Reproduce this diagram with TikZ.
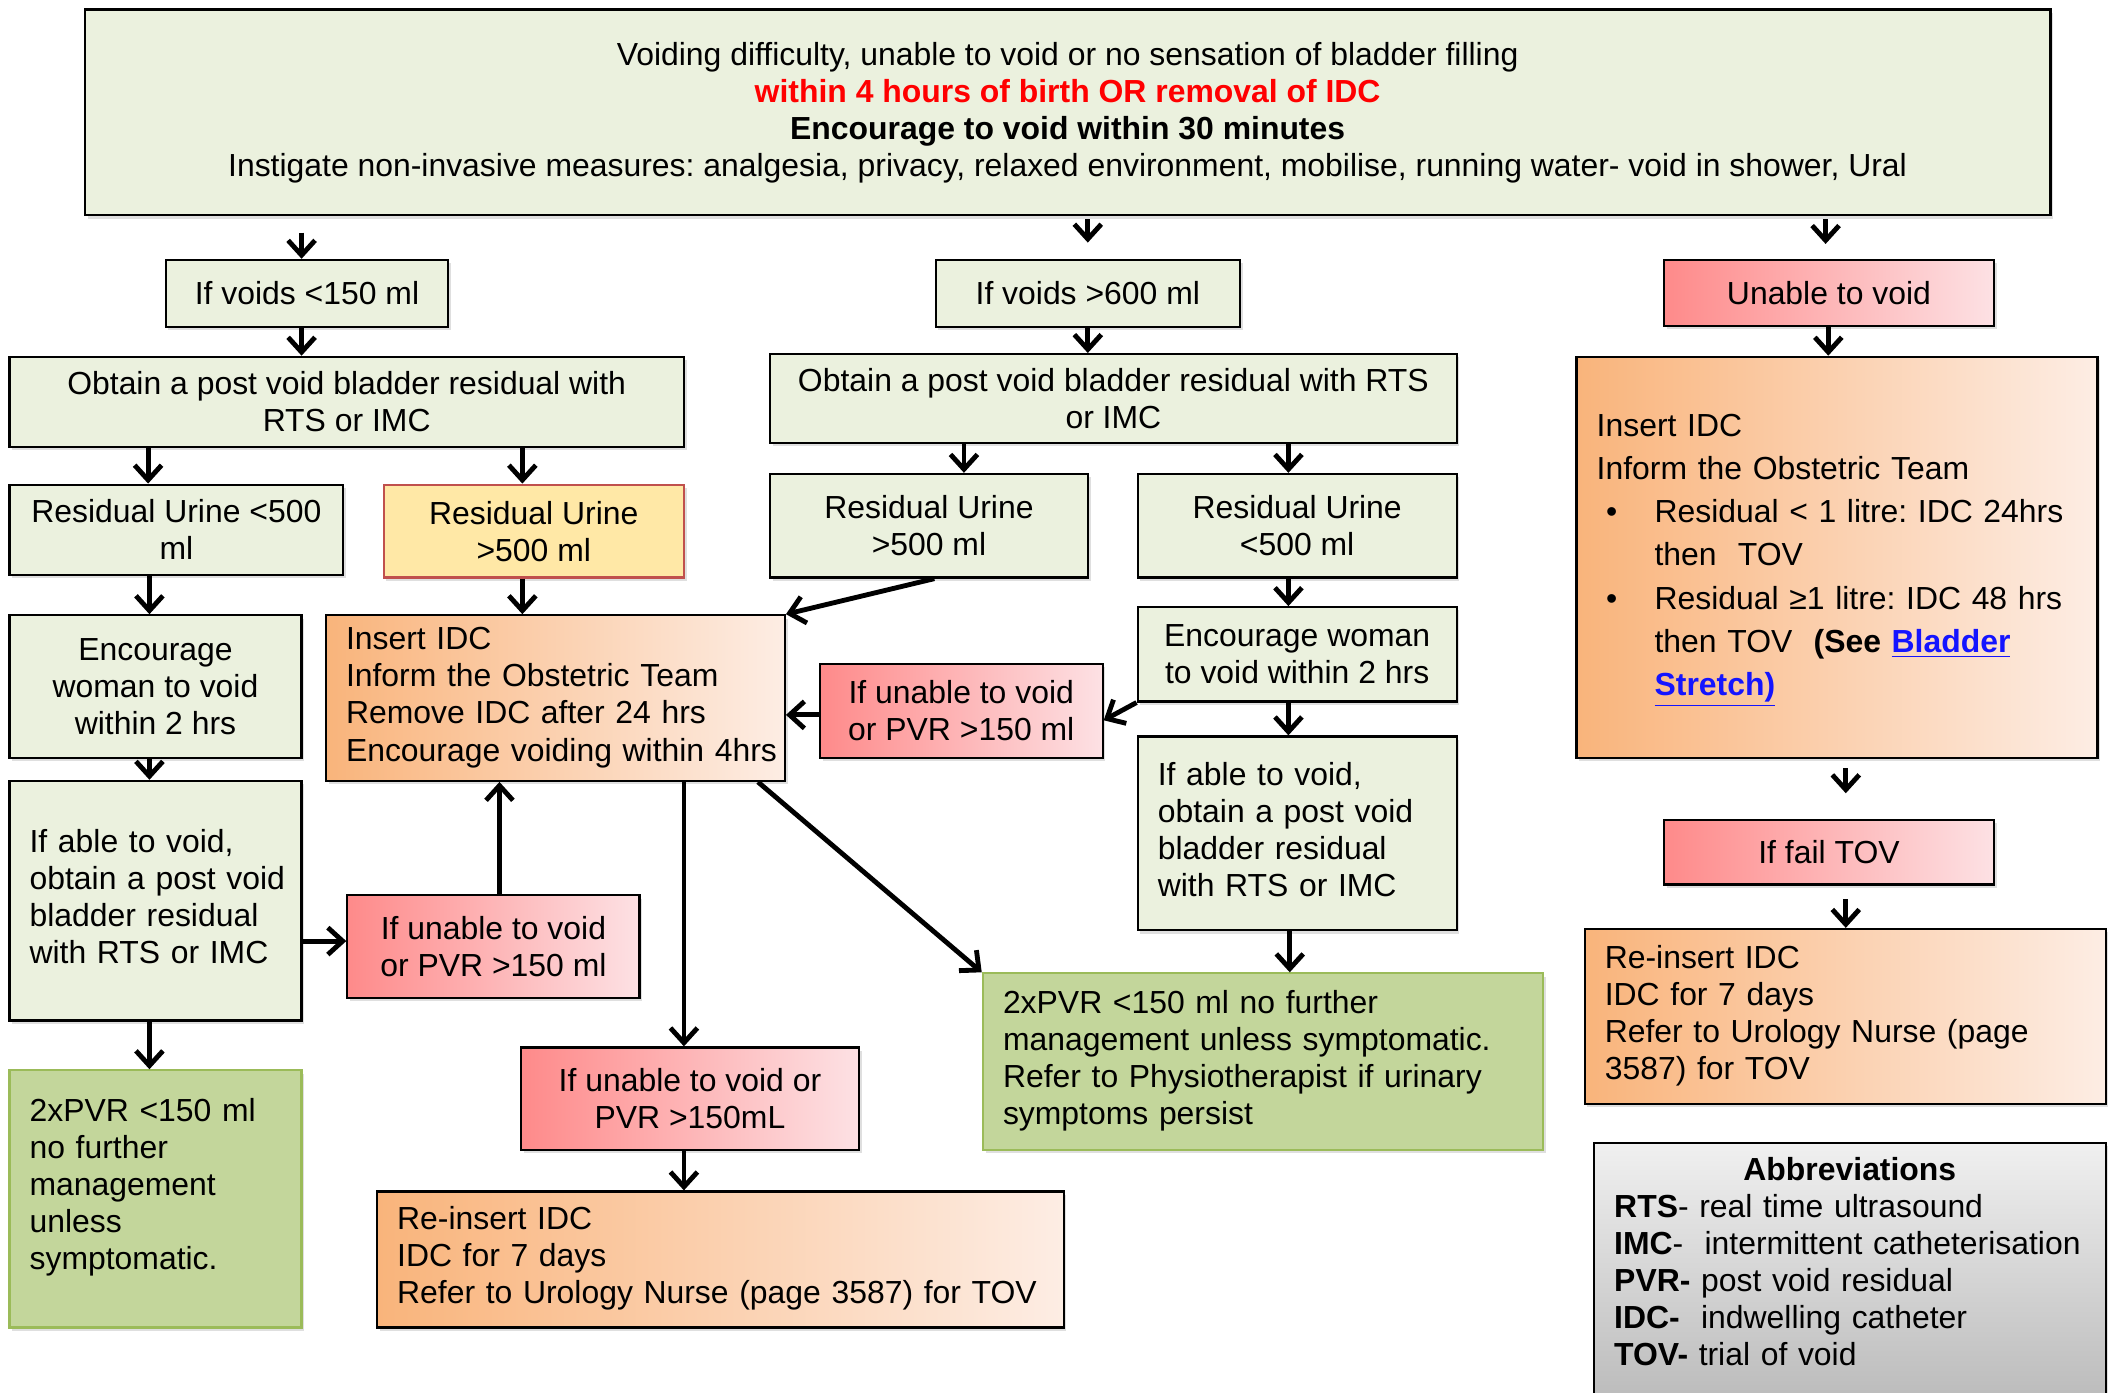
\documentclass[tikz,border=0pt]{standalone}
\usepackage{fontspec}
\setmainfont{Liberation Sans}
\usetikzlibrary{arrows.meta,shadows,calc}
\frenchspacing
\definecolor{lgreen}{HTML}{EBF1DE}
\definecolor{orL}{HTML}{F9B47B}
\definecolor{orR}{HTML}{FDEDE4}
\definecolor{redL}{HTML}{FE8A8A}
\definecolor{redR}{HTML}{FDE1E4}
\definecolor{yel}{HTML}{FFE8A6}
\definecolor{yelB}{HTML}{C0504D}
\definecolor{grn}{HTML}{C3D69B}
\definecolor{grnB}{HTML}{9BBB59}
\definecolor{grayT}{HTML}{F0F0F0}
\definecolor{grayB}{HTML}{BABABA}
\definecolor{linkblue}{HTML}{1414FF}
\definecolor{txtred}{HTML}{FF0000}
\tikzset{
  base/.style={draw=black, line width=0.8pt, inner sep=0pt,
    font=\fontsize{11.85}{13.75}\selectfont,
    drop shadow={shadow xshift=1pt,shadow yshift=-1.2pt,opacity=0.25}},
  gbox/.style={base, fill=lgreen, align=center},
  obox/.style={base, left color=orL, right color=orR},
  rbox/.style={base, left color=redL, right color=redR, align=center},
  ybox/.style={base, fill=yel, draw=yelB, align=center},
  grbox/.style={base, fill=grn, draw=grnB},
  abox/.style={base, top color=grayT, bottom color=grayB},
  arr/.style={line width=1.8pt, -{Straight Barb[length=5.5pt,width=10pt]}},
}
\newcommand\bx[7]{\node[#6, minimum width={(#4-(#2))*0.5pt}, minimum height={(#5-(#3))*0.5pt}] (#1) at ({(#2+#4)/2},{(#3+#5)/2}) {#7};}
\newcommand\lbx[7]{\node[#6, align=left, inner xsep=7.5pt, text width={(#4-(#2))*0.5pt-15pt}, minimum width={(#4-(#2))*0.5pt}, minimum height={(#5-(#3))*0.5pt}] (#1) at ({(#2+#4)/2},{(#3+#5)/2}) {\begin{tabular}{@{}l@{}}#7\end{tabular}};}
\begin{document}
\begin{tikzpicture}[x=0.5pt,y=-0.5pt]
\useasboundingbox (0,0) rectangle (1568,1034);
\clip (0,0) rectangle (1568,1034);
\fill[white] (0,0) rectangle (1568,1034);

% boxes
\bx{top}{63}{7}{1523}{160}{gbox}{Voiding difficulty, unable to void or no sensation of bladder filling\\
 \textcolor{txtred}{\textbf{within 4 hours of birth OR removal of IDC}}\\
 \textbf{Encourage to void within 30 minutes}\\
 Instigate non-invasive measures: analgesia, privacy, relaxed environment, mobilise, running water- void in shower, Ural}

\bx{v150}{123}{193}{333}{243}{gbox}{If voids <150 ml}
\bx{v600}{695}{193}{921}{243}{gbox}{If voids >600 ml}
\bx{unable}{1236}{193}{1481}{242}{rbox}{Unable to void}

\bx{obtainL}{7}{265}{508}{332}{gbox}{Obtain a post void bladder residual with\\RTS or IMC}
\bx{obtainM}{572}{263}{1082}{329}{gbox}{Obtain a post void bladder residual with RTS\\or IMC}

\lbx{insertR}{1171}{265}{1558}{563}{obox, font=\fontsize{11.85}{16}\selectfont}{Insert IDC\\
Inform the Obstetric Team\\
\hspace*{3.5pt}\makebox[18pt][l]{\textbullet}Residual < 1 litre: IDC 24hrs\\
\hspace*{21.5pt}then\ \ TOV\\
\hspace*{3.5pt}\makebox[18pt][l]{\textbullet}Residual ≥1 litre: IDC 48 hrs\\
\hspace*{21.5pt}then TOV\ \ \textbf{(See \textcolor{linkblue}{\underline{Bladder}}}\\
\hspace*{21.5pt}\textbf{\textcolor{linkblue}{\underline{Stretch)}}}}

\bx{resL1}{7}{360}{255}{427}{gbox}{Residual Urine <500\\ml}
\bx{resL2}{285}{360}{508}{429}{ybox}{Residual Urine\\>500 ml}
\bx{resM1}{572}{352}{808}{429}{gbox}{Residual Urine\\>500 ml}
\bx{resM2}{845}{352}{1082}{429}{gbox}{Residual Urine\\<500 ml}

\bx{encL}{7}{457}{224}{563}{gbox}{Encourage\\woman to void\\within 2 hrs}
\lbx{insertM}{242}{457}{583}{580}{obox}{Insert IDC\\Inform the Obstetric Team\\Remove IDC after 24 hrs\\Encourage voiding within 4hrs}
\bx{unableM}{609}{493}{819}{563}{rbox}{If unable to void\\or PVR >150 ml}
\bx{encM}{845}{451}{1082}{521}{gbox}{Encourage woman\\to void within 2 hrs}

\lbx{ableL}{7}{580}{224}{758}{gbox}{If able to void,\\obtain a post void\\bladder residual\\with RTS or IMC}
\bx{unableL}{258}{665}{475}{741}{rbox}{If unable to void\\or PVR >150 ml}
\lbx{ableM}{845}{547}{1082}{691}{gbox}{If able to void,\\obtain a post void\\bladder residual\\with RTS or IMC}

\bx{failTOV}{1236}{609}{1481}{657}{rbox}{If fail TOV}
\lbx{greenM}{730}{723}{1146}{854}{grbox}{2xPVR <150 ml no further\\management unless symptomatic.\\Refer to Physiotherapist if urinary\\symptoms persist}
\lbx{reinsR}{1177}{690}{1564}{820}{obox}{Re-insert IDC\\IDC for 7 days\\Refer to Urology Nurse (page\\3587) for TOV}
\bx{unableB}{387}{778}{638}{854}{rbox}{If unable to void or\\PVR >150mL}
\lbx{greenL}{7}{795}{224}{986}{grbox}{2xPVR <150 ml\\no further\\management\\unless\\symptomatic.\\[-5.75pt]\mbox{}}
\lbx{reinsB}{280}{885}{790}{986}{obox}{Re-insert IDC\\IDC for 7 days\\Refer to Urology Nurse (page 3587) for TOV}
\lbx{abbrev}{1184}{849}{1564}{1045}{abox}{\makebox[175pt][c]{\textbf{Abbreviations}}\\
\textbf{RTS}- real time ultrasound\\
\textbf{IMC}-\ \ intermittent catheterisation\\
\textbf{PVR-} post void residual\\
\textbf{IDC-}\ \ indwelling catheter\\
\textbf{TOV-} trial of void\\[-7pt]\mbox{}}

% connectors
\draw[arr] ($(top.south -| 224,0)+(0,12)$) -- (v150.north -| 224,0);
\draw[arr] ($(top.south -| 808,0)+(0,2)$) -- ($(v600.north -| 808,0)+(0,-12)$);
\draw[arr] ($(top.south -| 1356,0)+(0,2)$) -- ($(unable.north -| 1356,0)+(0,-11)$);
\draw[arr] (v150.south -| 224,0) -- (obtainL.north -| 224,0);
\draw[arr] (v600.south -| 808,0) -- (obtainM.north -| 808,0);
\draw[arr] (unable.south -| 1358,0) -- (insertR.north -| 1358,0);
\draw[arr] (obtainL.south -| 110,0) -- (resL1.north -| 110,0);
\draw[arr] (obtainL.south -| 388,0) -- (resL2.north -| 388,0);
\draw[arr] (obtainM.south -| 716,0) -- (resM1.north -| 716,0);
\draw[arr] (obtainM.south -| 957,0) -- (resM2.north -| 957,0);
\draw[arr] (resL1.south -| 111,0) -- (encL.north -| 111,0);
\draw[arr] (resL2.south -| 388,0) -- (insertM.north -| 388,0);
\draw[arr] (resM1.south -| 694,0) -- (insertM.north east);
\draw[arr] (resM2.south -| 957,0) -- (encM.north -| 957,0);
\draw[arr] (encL.south -| 111,0) -- (ableL.north -| 111,0);
\draw[arr] (encM.south -| 957,0) -- (ableM.north -| 957,0);
\draw[arr] (encM.south west) -- ($(unableM.east)+(0,7)$);
\draw[arr] (unableM.west |- 0,531) -- (insertM.east |- 0,531);
\draw[arr] (ableL.east |- 0,699) -- (unableL.west |- 0,699);
\draw[arr] (unableL.north -| 371,0) -- (insertM.south -| 371,0);
\draw[arr] (ableL.south -| 111,0) -- (greenL.north -| 111,0);
\draw[arr] (insertM.south -| 508,0) -- (unableB.north -| 508,0);
\draw[arr] (insertM.south -| 563,0) -- (greenM.north west);
\draw[arr] (ableM.south -| 958,0) -- (greenM.north -| 958,0);
\draw[arr] (unableB.south -| 508,0) -- (reinsB.north -| 508,0);
\draw[arr] ($(insertR.south -| 1371,0)+(0,7)$) -- ($(failTOV.north -| 1371,0)+(0,-19)$);
\draw[arr] ($(failTOV.south -| 1371,0)+(0,10)$) -- (reinsR.north -| 1371,0);
\end{tikzpicture}
\end{document}
